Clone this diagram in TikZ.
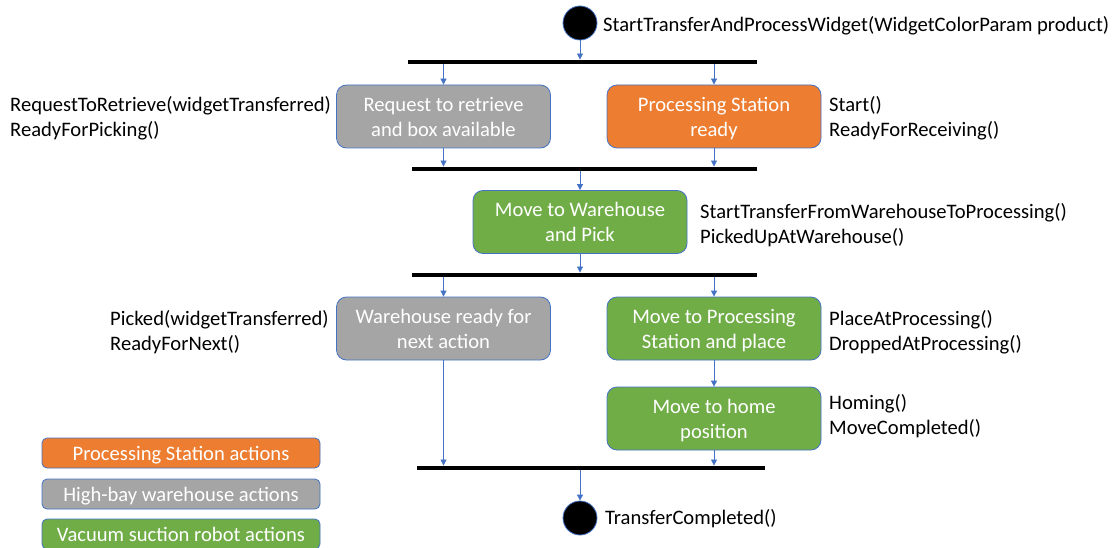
\documentclass[tikz,border=0pt]{standalone}
\usepackage{fontspec}
\setmainfont{Carlito}
\usetikzlibrary{arrows.meta}
\definecolor{psorange}{HTML}{ED7D31}
\definecolor{hbwgray}{HTML}{A5A5A5}
\definecolor{vsggreen}{HTML}{70AD47}
\definecolor{edgeblue}{HTML}{4472C4}
\newcommand{\lnstrut}{\rule[-5pt]{0pt}{24.5pt}}

\begin{document}
\begin{tikzpicture}[x=1pt,y=-1pt,
  every node/.style={font=\fontsize{20.6}{25}\selectfont},
  flow/.style={-{Triangle[width=6pt,length=6pt]},draw=edgeblue,line width=0.8pt},
  act node/.style={rectangle,rounded corners=10pt,draw=edgeblue,line width=0.8pt,text=white,align=center,minimum width=214pt,minimum height=63pt,inner sep=2pt},
  legend node/.style={rectangle,rounded corners=5pt,draw=edgeblue,line width=0.8pt,text=white,minimum width=278pt,minimum height=30pt,inner sep=0pt},
  bar node/.style={rectangle,fill=black,inner sep=0pt,minimum height=4.5pt},
  dot node/.style={circle,fill=black,draw=edgeblue,line width=0.8pt,minimum size=34pt,inner sep=0pt},
  msg node/.style={anchor=west,align=left,inner sep=0pt}]
  \useasboundingbox (0,0) rectangle (1118,548);

  % start / end
  \node[dot node] (start) at (580,23) {};
  \node[msg node] (startmsg) at (603,26) {StartTransferAndProcessWidget(WidgetColorParam product)};
  \node[dot node] (stop) at (580,518) {};
  \node[msg node] (stopmsg) at (605,519) {TransferCompleted()};

  % fork / join bars
  \node[bar node,minimum width=349pt] (bar1) at (582.5,62) {};
  \node[bar node,minimum width=345pt] (bar2) at (584.5,169) {};
  \node[bar node,minimum width=345pt] (bar3) at (584.5,275) {};
  \node[bar node,minimum width=348pt] (bar4) at (591,468) {};

  % actions
  \node[act node,fill=hbwgray] (request) at (443.5,116.5) {\lnstrut Request to retrieve\\\lnstrut and box available};
  \node[act node,fill=psorange] (psready) at (714,116.5) {\lnstrut Processing Station\\\lnstrut ready};
  \node[act node,fill=vsggreen] (pick) at (580,222) {\lnstrut Move to Warehouse\\\lnstrut and Pick};
  \node[act node,fill=hbwgray] (whready) at (443.5,328.5) {\lnstrut Warehouse ready for\\\lnstrut next action};
  \node[act node,fill=vsggreen] (place) at (714,328.5) {\lnstrut Move to Processing\\\lnstrut Station and place};
  \node[act node,fill=vsggreen] (home) at (714,418.5) {\lnstrut Move to home\\\lnstrut position};

  % messages
  \node[msg node] (m1) at (10,118) {RequestToRetrieve(widgetTransferred)\\ReadyForPicking()};
  \node[msg node] (m2) at (829,118) {Start()\\ReadyForReceiving()};
  \node[msg node] (m3) at (700,225) {StartTransferFromWarehouseToProcessing()\\PickedUpAtWarehouse()};
  \node[msg node] (m4) at (110,332) {Picked(widgetTransferred)\\ReadyForNext()};
  \node[msg node] (m5) at (829,332) {PlaceAtProcessing()\\DroppedAtProcessing()};
  \node[msg node] (m6) at (829,416) {Homing()\\MoveCompleted()};

  % legend
  \node[legend node,fill=psorange] (lps) at (181,453) {\lnstrut Processing Station actions};
  \node[legend node,fill=hbwgray] (lhbw) at (181,494) {\lnstrut High-bay warehouse actions};
  \node[legend node,fill=vsggreen] (lvsg) at (181,534) {\lnstrut Vacuum suction robot actions};

  % flow
  \draw[flow] (start) -- (start |- bar1.north);
  \draw[flow] (bar1.south -| request) -- (request);
  \draw[flow] (bar1.south -| psready) -- (psready);
  \draw[flow] (request) -- (request |- bar2.north);
  \draw[flow] (psready) -- (psready |- bar2.north);
  \draw[flow] (bar2.south -| pick) -- (pick);
  \draw[flow] (pick) -- (pick |- bar3.north);
  \draw[flow] (bar3.south -| whready) -- (whready);
  \draw[flow] (bar3.south -| place) -- (place);
  \draw[flow] (place) -- (home);
  \draw[flow] (whready) -- (whready |- bar4.north);
  \draw[flow] (home) -- (home |- bar4.north);
  \draw[flow] (bar4.south -| stop) -- (stop);
\end{tikzpicture}
\end{document}
